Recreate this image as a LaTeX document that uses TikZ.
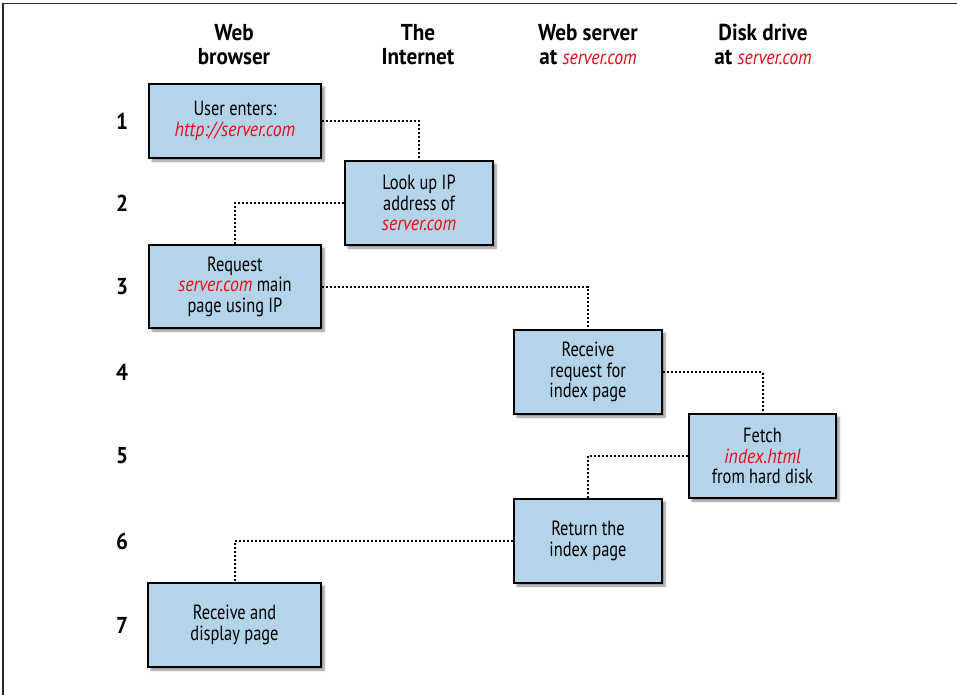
\documentclass[tikz,border=0pt]{standalone}
\usepackage{fontspec}
\setmainfont{PT Sans}[FakeStretch=0.8,
  BoldFeatures={FakeStretch=0.92},
  ItalicFeatures={FakeStretch=0.87}]
\usetikzlibrary{shadows.blur}
\definecolor{boxblue}{RGB}{180,212,234}
\definecolor{urlred}{RGB}{240,10,20}
\newcommand{\url}[1]{\textcolor{urlred}{\itshape #1}}
\tikzset{
  stepbox/.style={draw=black, line width=2.6pt, fill=boxblue, align=center,
    inner sep=0pt, font=\fontsize{20.5}{20.5}\selectfont,
    blur shadow={shadow xshift=3pt, shadow yshift=-3pt, shadow blur steps=6, shadow opacity=45}},
  link/.style={draw=black, line width=2pt, dash pattern=on 2pt off 2pt},
  header/.style={align=center, font=\bfseries\fontsize{23}{24}\selectfont, inner sep=0pt, anchor=base},
  rownum/.style={font=\bfseries\fontsize{23}{24}\selectfont, inner sep=0pt},
  frameline/.style={draw=black!85, line width=1.5pt}
}
\begin{document}
\begin{tikzpicture}[x=1pt,y=-1pt]
\useasboundingbox (0,0) rectangle (957,695);
\draw[frameline] (3,695) -- (3,3.5) -- (957,3.5);
% headers
\node[header] (h1) at (234,65) {Web\\browser};
\node[header] (h2) at (418,65) {The\\Internet};
\node[header] (h3) at (588,65) {Web server\\at \url{\mdseries\fontsize{20.5}{20.5}\selectfont server.com}};
\node[header] (h4) at (763,65) {Disk drive\\at \url{\mdseries\fontsize{20.5}{20.5}\selectfont server.com}};
% row numbers
\node[rownum] (r1) at (122,121) {1};
\node[rownum] (r2) at (122,203) {2};
\node[rownum] (r3) at (122,286.5) {3};
\node[rownum] (r4) at (122,372) {4};
\node[rownum] (r5) at (122,456) {5};
\node[rownum] (r6) at (122,541) {6};
\node[rownum] (r7) at (122,625) {7};
% boxes
\node[stepbox, minimum width=172pt, minimum height=74pt] (b1) at (235,121) {User enters:\\\url{http://server.com}};
\node[stepbox, minimum width=148pt, minimum height=84pt] (b2) at (419,203) {Look up IP\\address of\\\url{server.com}};
\node[stepbox, minimum width=172pt, minimum height=83pt] (b3) at (235,286.5) {Request\\\url{server.com} main\\page using IP};
\node[stepbox, minimum width=148pt, minimum height=84pt] (b4) at (588,372) {Receive\\request for\\index page};
\node[stepbox, minimum width=147pt, minimum height=84pt] (b5) at (762.5,456) {Fetch\\\url{index.html}\\from hard disk};
\node[stepbox, minimum width=148pt, minimum height=84pt] (b6) at (588,541) {Return the\\index page};
\node[stepbox, minimum width=173pt, minimum height=84pt] (b7) at (234.5,625) {Receive and\\display page};
% connectors
\draw[link] (b1.east) -| (b2.north);
\draw[link] (b2.west) -| (b3.north);
\draw[link] (b3.east) -| (b4.north);
\draw[link] (b4.east) -| (b5.north);
\draw[link] (b5.west) -| (b6.north);
\draw[link] (b6.west) -| (b7.north);
\end{tikzpicture}
\end{document}
